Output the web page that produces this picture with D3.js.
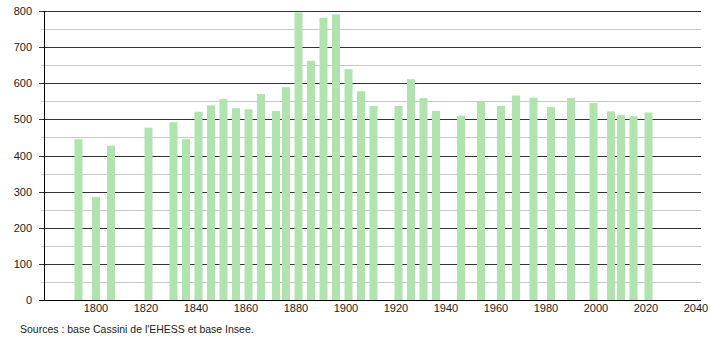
<!DOCTYPE html>
<html>
<head>
<meta charset="utf-8">
<script src="https://cdn.jsdelivr.net/npm/d3@7"></script>
<style>
  body { margin: 0; background: #fff; }
  text { font-family: "Liberation Sans", Arial, sans-serif; }
</style>
</head>
<body>
<svg id="chart" width="710" height="340"></svg>
<script>
// census years and population
var years = [1793, 1800, 1806, 1821, 1831, 1836, 1841, 1846, 1851, 1856,
             1861, 1866, 1872, 1876, 1881, 1886, 1891, 1896, 1901, 1906,
             1911, 1921, 1926, 1931, 1936, 1946, 1954, 1962, 1968, 1975,
             1982, 1990, 1999, 2006, 2010, 2015, 2021];
var population = [445, 285, 427, 477, 492, 445, 521, 539, 556, 531,
                  528, 570, 523, 589, 796, 662, 781, 791, 639, 578,
                  537, 537, 611, 559, 523, 510, 550, 537, 566, 560,
                  534, 559, 545, 522, 512, 509, 519];
var xTicks = [1800, 1820, 1840, 1860, 1880, 1900, 1920, 1940, 1960, 1980, 2000, 2020, 2040];
var yTicks = [0, 100, 200, 300, 400, 500, 600, 700, 800];
var yMinor = [50, 150, 250, 350, 450, 550, 650, 750];

var data = years.map(function(yr, i) { return {year: yr, pop: population[i]}; });

var svg = d3.select("#chart");
var mLeft = 44, mRight = 701, mTop = 11, mBottom = 300;

var x = d3.scaleLinear()
    .domain([1779.2, 2042])
    .range([mLeft, mRight]);
var y = d3.scaleLinear()
    .domain([0, 800])
    .range([mBottom, mTop]);

//minor grid lines
svg.append("g").selectAll("line")
    .data(yMinor)
    .enter().append("line")
    .attr("x1", mLeft - 3).attr("x2", mRight)
    .attr("y1", d => Math.round(y(d)) + 0.5).attr("y2", d => Math.round(y(d)) + 0.5)
    .attr("stroke", "#c8c8c8");

//major grid lines
svg.append("g").selectAll("line")
    .data(yTicks.filter(d => d > 0))
    .enter().append("line")
    .attr("x1", mLeft - 5).attr("x2", mRight)
    .attr("y1", d => Math.round(y(d)) + 0.5).attr("y2", d => Math.round(y(d)) + 0.5)
    .attr("stroke", "#333");

//bars
svg.append("g").selectAll("rect")
    .data(data)
    .enter().append("rect")
    .attr("x", d => x(d.year) - 4)
    .attr("width", 8)
    .attr("y", d => y(d.pop))
    .attr("height", d => mBottom - y(d.pop))
    .attr("fill", "#b0e3ad");

//axes lines
svg.append("line")
    .attr("x1", mLeft + 0.5).attr("x2", mLeft + 0.5)
    .attr("y1", mTop).attr("y2", mBottom)
    .attr("stroke", "#000");
svg.append("line")
    .attr("x1", mLeft - 5).attr("x2", mRight)
    .attr("y1", mBottom + 0.5).attr("y2", mBottom + 0.5)
    .attr("stroke", "#000");

//y labels
svg.append("g").selectAll("text")
    .data(yTicks)
    .enter().append("text")
    .attr("x", 32)
    .attr("y", d => y(d) + 4)
    .attr("text-anchor", "end")
    .attr("font-size", 11)
    .attr("fill", "#222")
    .text(d => d);

//x labels
svg.append("g").selectAll("text")
    .data(xTicks)
    .enter().append("text")
    .attr("x", d => x(d))
    .attr("y", 312)
    .attr("text-anchor", "middle")
    .attr("font-size", 11)
    .attr("fill", "#222")
    .text(d => d);

svg.append("text")
    .attr("x", 20)
    .attr("y", 333)
    .attr("font-size", 10.5)
    .attr("fill", "#222")
    .text("Sources : base Cassini de l'EHESS et base Insee.");
</script>
</body>
</html>
